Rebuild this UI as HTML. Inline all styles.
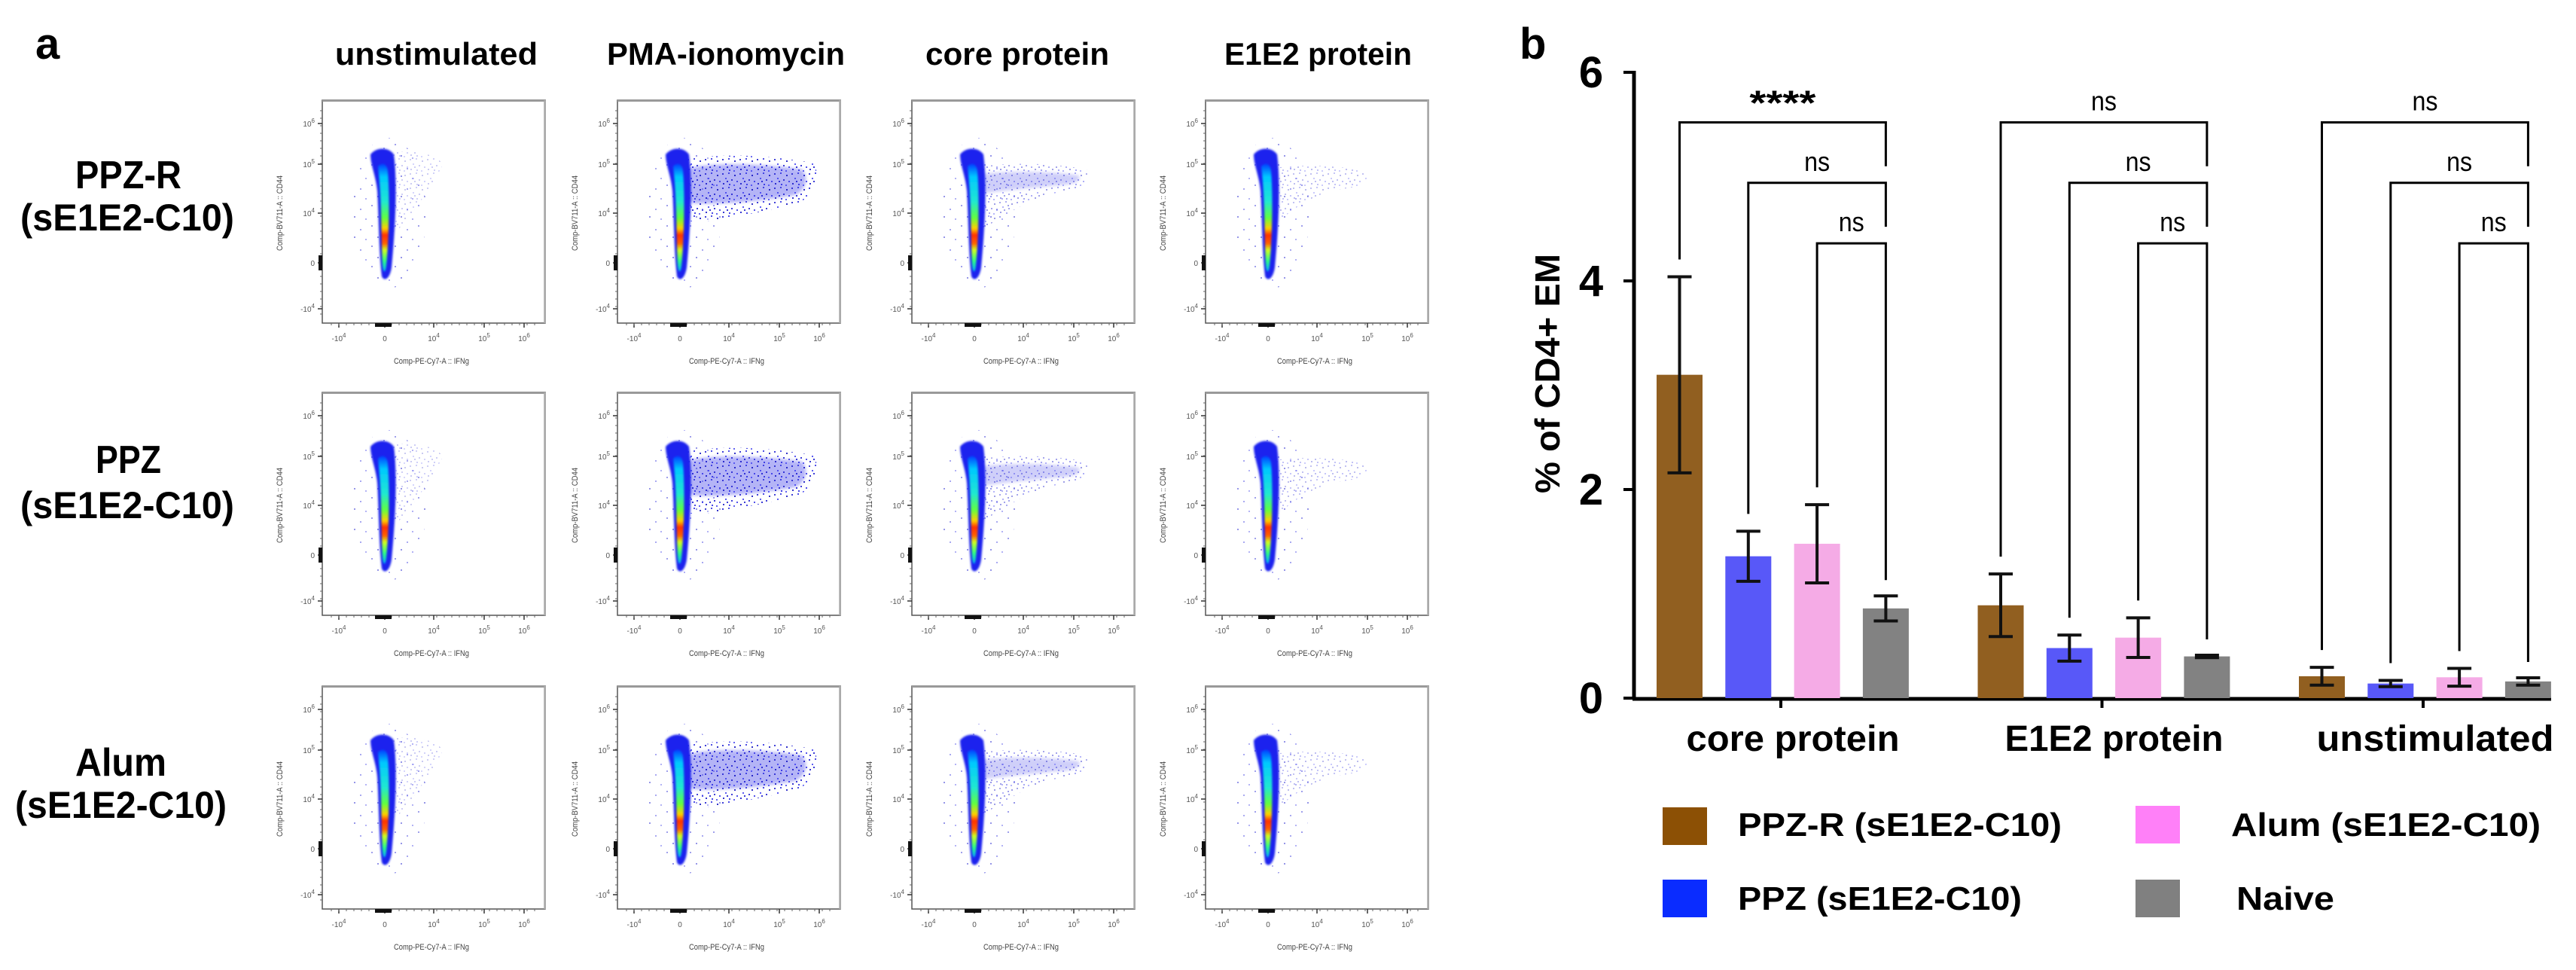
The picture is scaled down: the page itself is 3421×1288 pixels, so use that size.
<!DOCTYPE html>
<html><head><meta charset="utf-8"><style>
html,body{margin:0;padding:0;background:#fff;}
svg{display:block;font-family:"Liberation Sans",sans-serif;}
</style></head><body>
<svg id="fig" width="3421" height="1288" viewBox="0 0 3421 1288" xmlns="http://www.w3.org/2000/svg">
<defs>
<filter id="blur2" x="-50%" y="-50%" width="200%" height="200%"><feGaussianBlur stdDeviation="2.2"/></filter>
<filter id="blur1" x="-50%" y="-50%" width="200%" height="200%"><feGaussianBlur stdDeviation="1.3"/></filter>
<linearGradient id="coreGrad" x1="0" y1="0" x2="0" y2="1">
<stop offset="0" stop-color="#0040ff"/><stop offset="0.12" stop-color="#00c8ff"/>
<stop offset="0.35" stop-color="#20e8d0"/><stop offset="0.5" stop-color="#60ff40"/>
<stop offset="0.6" stop-color="#ffd000"/><stop offset="0.66" stop-color="#ff3000"/>
<stop offset="0.74" stop-color="#ff6000"/><stop offset="0.8" stop-color="#d0ff20"/>
<stop offset="0.9" stop-color="#30ff80"/><stop offset="1" stop-color="#00b0ff"/>
</linearGradient>
<pattern id="dotsDense" width="23" height="19" patternUnits="userSpaceOnUse">
<rect x="1" y="2" width="2" height="2" fill="#2020d0"/><rect x="9" y="1" width="2" height="2" fill="#3030e0"/>
<rect x="17" y="4" width="2" height="2" fill="#1010c0"/><rect x="5" y="8" width="2" height="2" fill="#4040f0"/>
<rect x="13" y="10" width="2" height="2" fill="#2020d0"/><rect x="20" y="12" width="2" height="2" fill="#3535e8"/>
<rect x="2" y="15" width="2" height="2" fill="#1515c8"/><rect x="10" y="16" width="2" height="2" fill="#2a2ae0"/>
<rect x="16" y="17" width="2" height="2" fill="#4848f0"/><rect x="7" y="12" width="2" height="2" fill="#1a1ad0"/>
</pattern>
<pattern id="dotsSparse" width="31" height="27" patternUnits="userSpaceOnUse">
<rect x="3" y="4" width="2" height="2" fill="#6060e0"/><rect x="19" y="9" width="2" height="2" fill="#7070e8"/>
<rect x="11" y="19" width="2" height="2" fill="#5050d8"/><rect x="26" y="22" width="2" height="2" fill="#8080ee"/>
</pattern>
</defs>

<text x="47" y="78" font-size="58" font-weight="bold">a</text>
<text x="2018" y="78" font-size="58" font-weight="bold">b</text>

<text x="445" y="86" font-size="42" font-weight="bold" textLength="269" lengthAdjust="spacingAndGlyphs">unstimulated</text>
<text x="806" y="86" font-size="42" font-weight="bold" textLength="316" lengthAdjust="spacingAndGlyphs">PMA-ionomycin</text>
<text x="1229" y="86" font-size="42" font-weight="bold" textLength="244" lengthAdjust="spacingAndGlyphs">core protein</text>
<text x="1626" y="86" font-size="42" font-weight="bold" textLength="249" lengthAdjust="spacingAndGlyphs">E1E2 protein</text>

<text x="100" y="250" font-size="52" font-weight="bold" textLength="141" lengthAdjust="spacingAndGlyphs">PPZ-R</text>
<text x="27" y="306" font-size="50" font-weight="bold" textLength="284" lengthAdjust="spacingAndGlyphs">(sE1E2-C10)</text>
<text x="127" y="628" font-size="52" font-weight="bold" textLength="87" lengthAdjust="spacingAndGlyphs">PPZ</text>
<text x="27" y="688" font-size="50" font-weight="bold" textLength="284" lengthAdjust="spacingAndGlyphs">(sE1E2-C10)</text>
<text x="100" y="1030" font-size="52" font-weight="bold" textLength="121" lengthAdjust="spacingAndGlyphs">Alum</text>
<text x="20" y="1086" font-size="50" font-weight="bold" textLength="281" lengthAdjust="spacingAndGlyphs">(sE1E2-C10)</text>

<g id="flow"></g>

<text transform="translate(2071,496) rotate(-90)" text-anchor="middle" font-size="46" font-weight="bold" textLength="318" lengthAdjust="spacingAndGlyphs">% of CD4+ EM</text>
<g id="bars"></g>

<g>
<rect x="2208" y="1072" width="59" height="50" fill="#8c5005"/>
<text x="2308" y="1110" font-size="44" font-weight="bold" textLength="430" lengthAdjust="spacingAndGlyphs">PPZ-R (sE1E2-C10)</text>
<rect x="2208" y="1168" width="59" height="50" fill="#0a2cff"/>
<text x="2308" y="1208" font-size="44" font-weight="bold" textLength="377" lengthAdjust="spacingAndGlyphs">PPZ (sE1E2-C10)</text>
<rect x="2836" y="1070" width="59" height="50" fill="#ff80f8"/>
<text x="2963" y="1110" font-size="44" font-weight="bold" textLength="411" lengthAdjust="spacingAndGlyphs">Alum (sE1E2-C10)</text>
<rect x="2836" y="1168" width="59" height="50" fill="#808080"/>
<text x="2970" y="1208" font-size="44" font-weight="bold" textLength="130" lengthAdjust="spacingAndGlyphs">Naive</text>
</g>
</svg>
<script>
// ---------- bar chart data ----------
const groups = ['core protein', 'E1E2 protein', 'unstimulated'];
const seriesNames = ['PPZ-R (sE1E2-C10)', 'PPZ (sE1E2-C10)', 'Alum (sE1E2-C10)', 'Naive'];
const ppzR  = [3.10, 0.89, 0.21];
const ppz   = [1.36, 0.48, 0.14];
const alum  = [1.48, 0.58, 0.20];
const naive = [0.86, 0.40, 0.16];
const ppzRErr  = [0.94, 0.30, 0.085];
const ppzErr   = [0.24, 0.125, 0.03];
const alumErr  = [0.375, 0.19, 0.085];
const naiveErr = [0.12, 0.012, 0.035];
const yTicks = [0, 2, 4, 6];
const sigTop = ['****', 'ns', 'ns'];
const sigMid = ['ns', 'ns', 'ns'];
const sigLow = ['ns', 'ns', 'ns'];
const bracketLevels = [5.52, 4.94, 4.36];

const NS = 'http://www.w3.org/2000/svg';
function mk(tag, attrs, parent) {
  const e = document.createElementNS(NS, tag);
  for (const k in attrs) e.setAttribute(k, attrs[k]);
  parent.appendChild(e);
  return e;
}
const Y0 = 927, PXU = 138.5;
const yS = v => Y0 - v * PXU;
const xS = (g, s) => 2230.5 + g * 426.5 + s * 91.3;
const gC = g => 2365 + g * 426.5;
const colors = ['#915f20', '#5858f8', '#f5abe6', '#828282'];
const bars = document.getElementById('bars');
const means = [ppzR, ppz, alum, naive];
const errs = [ppzRErr, ppzErr, alumErr, naiveErr];

let ax = mk('line', {x1: 2170, y1: yS(6) - 2, x2: 2170, y2: Y0 + 2, stroke: '#000', 'stroke-width': 5}, bars);


yTicks.forEach(t => {
  const tk = mk('line', {x1: 2156, y1: yS(t), x2: 2170, y2: yS(t), stroke: '#000', 'stroke-width': 4}, bars);
  
  
  const tl = mk('text', {x: 2113, y: yS(t) + 20, 'text-anchor': 'middle', 'font-size': 58, 'font-weight': 'bold'}, bars);
  tl.textContent = t;
  
  
});
let xa = mk('line', {x1: 2168, y1: Y0 + 1, x2: 3388, y2: Y0 + 1, stroke: '#000', 'stroke-width': 5}, bars);


const xlW = [283, 290, 315];
groups.forEach((g, i) => {
  const tk = mk('line', {x1: gC(i), y1: Y0, x2: gC(i), y2: Y0 + 13, stroke: '#000', 'stroke-width': 4}, bars);
  
  
  const tl = mk('text', {x: gC(i) + 16, y: 997, 'text-anchor': 'middle', 'font-size': 48, 'font-weight': 'bold', textLength: xlW[i], lengthAdjust: 'spacingAndGlyphs'}, bars);
  tl.textContent = g;
  
  
});

for (let s = 0; s < 4; s++) {
  for (let g = 0; g < 3; g++) {
    const v = means[s][g], e = errs[s][g], cx = xS(g, s);
    const r = mk('rect', {x: cx - 30.5, y: yS(v), width: 61, height: Y0 - yS(v), fill: colors[s]}, bars);
    
    
    const eb = mk('path', {d: `M${cx},${yS(v + e)}V${yS(v - e)}M${cx - 16},${yS(v + e)}H${cx + 16}M${cx - 16},${yS(v - e)}H${cx + 16}`, stroke: '#111', 'stroke-width': 4, fill: 'none'}, bars);
    
    
  }
}

const sigs = [sigTop, sigMid, sigLow];
for (let g = 0; g < 3; g++) {
  for (let b = 0; b < 3; b++) {
    const lx = xS(g, b), rx = xS(g, 3), ly = yS(bracketLevels[b]);
    const leftEnd = yS(means[b][g] + errs[b][g]) - 23;
    const rightEnd = b < 2 ? yS(bracketLevels[b + 1]) - 22 : yS(means[3][g] + errs[3][g]) - 21;
    const p = mk('path', {d: `M${lx},${leftEnd}V${ly}H${rx}V${rightEnd}`, stroke: '#000', 'stroke-width': 3, fill: 'none'}, bars);
    
    
    const lab = sigs[b][g];
    const t = mk('text', {x: (lx + rx) / 2, y: ly - (lab === '****' ? 10 : 16), 'text-anchor': 'middle', 'font-size': lab === '****' ? 46 : 36, 'font-weight': lab === '****' ? 'bold' : 'normal'}, bars);
    t.setAttribute('textLength', lab === '****' ? 88 : 34);
    t.setAttribute('lengthAdjust', 'spacingAndGlyphs');
    t.textContent = lab;
    
    
  }
}

// ---------- flow cytometry panels ----------
const colX = [428, 820, 1211, 1601];
const rowY = [133, 521, 911];
const colTypes = ['unstim', 'pma', 'core', 'e1e2'];
const yTickLabels = ['6', '5', '4', '0', '-4'];
const yTickRel = [31, 85, 150, 216, 277];
const xTickRel = [22, 83, 148, 215, 268];
const xTickLabels = ['-4', '0', '4', '5', '6'];
const flow = document.getElementById('flow');
const F = 296;

function powLabel(parent, x, y, p, anchor) {
  const t = mk('text', {x: x, y: y, 'font-size': 10, fill: '#555', 'text-anchor': anchor}, parent);
  if (p === '0') { t.textContent = '0'; }
  else {
    const neg = p.startsWith('-');
    const a = document.createElementNS(NS, 'tspan'); a.textContent = (neg ? '-' : '') + '10'; t.appendChild(a);
    const b = document.createElementNS(NS, 'tspan'); b.setAttribute('dy', -5); b.setAttribute('font-size', 8); b.textContent = neg ? p.slice(1) : p; t.appendChild(b);
  }
  return t;
}

for (let r = 0; r < 3; r++) {
  for (let c = 0; c < 4; c++) {
    const fx = colX[c], fy = rowY[r], type = colTypes[c];
    const g = mk('g', {transform: `translate(${fx},${fy})`}, flow);
    
    
    mk('ellipse', {cx: 88, cy: 150, rx: 50, ry: 100, fill: 'url(#dotsSparse)', opacity: 0.6}, g);
    if (type === 'pma') {
      mk('path', {d: 'M88,92 C120,82 190,84 245,92 C255,104 250,120 235,126 C190,134 130,140 92,136 Z', fill: '#2a2ae8', opacity: 0.35, filter: 'url(#blur2)'}, g);
      mk('path', {d: 'M85,80 C130,70 200,72 262,84 C270,108 258,134 230,140 C170,152 120,165 90,160 Z', fill: 'url(#dotsDense)', opacity: 0.85}, g);
    } else if (type === 'core') {
      mk('path', {d: 'M92,98 C130,94 180,94 222,100 C224,106 220,110 205,112 C160,116 120,120 94,124 Z', fill: '#4545e8', opacity: 0.25, filter: 'url(#blur2)'}, g);
      mk('path', {d: 'M90,88 C140,82 190,84 232,92 C236,110 226,120 200,122 C150,128 120,160 92,170 Z', fill: 'url(#dotsDense)', opacity: 0.4}, g);
    } else if (type === 'e1e2') {
      mk('path', {d: 'M90,90 C140,84 180,88 215,94 C218,108 205,116 180,118 C140,124 110,150 92,165 Z', fill: 'url(#dotsDense)', opacity: 0.28}, g);
    } else {
      mk('path', {d: 'M90,70 C120,66 150,70 160,85 C150,110 120,150 94,180 Z', fill: 'url(#dotsDense)', opacity: 0.22}, g);
    }
    mk('path', {d: 'M64,72 C72,62 88,62 95,72 C100,110 97,170 92,222 C90,236 83,242 79,234 C75,200 75,150 73,120 C71,100 64,86 64,72 Z', fill: '#1a22ee', filter: 'url(#blur1)'}, g);
    mk('path', {d: 'M74,88 C79,82 86,84 87,94 C90,130 88,190 85,220 C84,230 81,230 80,220 C78,180 79,130 74,88 Z', fill: 'url(#coreGrad)', filter: 'url(#blur1)'}, g);
    const fr = mk('rect', {x: 0, y: 0, width: F, height: F, fill: 'none', stroke: '#555', 'stroke-width': 1.5}, g);
    
    
    mk('line', {x1: 0, y1: 0.5, x2: F, y2: 0.5, stroke: '#999', 'stroke-width': 3}, g);
    mk('line', {x1: F - 0.5, y1: 0, x2: F - 0.5, y2: F, stroke: '#aaa', 'stroke-width': 2.5}, g);
    yTickRel.forEach((ty, i) => {
      mk('line', {x1: -6, y1: ty, x2: 0, y2: ty, stroke: '#333', 'stroke-width': 1.5}, g);
      powLabel(g, -10, ty + 4, yTickLabels[i], 'end');
    });
    for (let k = 0; k < 28; k++) {
      mk('line', {x1: -3, y1: 14 + k * 10, x2: 0, y2: 14 + k * 10, stroke: '#666', 'stroke-width': 1}, g);
    }
    mk('rect', {x: -5, y: 206, width: 5, height: 20, fill: '#111'}, g);
    xTickRel.forEach((tx, i) => {
      mk('line', {x1: tx, y1: F, x2: tx, y2: F + 6, stroke: '#333', 'stroke-width': 1.5}, g);
      powLabel(g, tx, F + 24, xTickLabels[i], 'middle');
    });
    for (let k = 0; k < 28; k++) {
      mk('line', {x1: 12 + k * 10, y1: F, x2: 12 + k * 10, y2: F + 3, stroke: '#666', 'stroke-width': 1}, g);
    }
    mk('rect', {x: 70, y: F, width: 22, height: 5, fill: '#111'}, g);
    const xl = mk('text', {x: 145, y: F + 54, 'font-size': 11, fill: '#444', 'text-anchor': 'middle', textLength: 100, lengthAdjust: 'spacingAndGlyphs'}, g);
    xl.textContent = 'Comp-PE-Cy7-A :: IFNg';
    
    
    const yl = mk('text', {transform: 'translate(-53,150) rotate(-90)', 'font-size': 11, fill: '#444', 'text-anchor': 'middle', textLength: 100, lengthAdjust: 'spacingAndGlyphs'}, g);
    yl.textContent = 'Comp-BV711-A :: CD44';
    
    
  }
}
</script>
</body></html>
